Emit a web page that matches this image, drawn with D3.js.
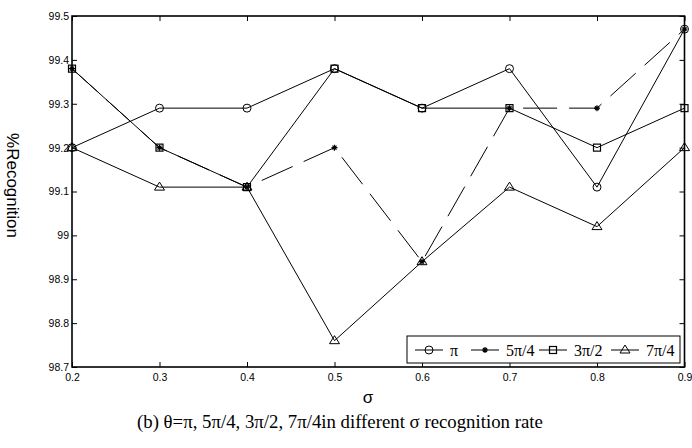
<!DOCTYPE html>
<html>
<head>
<meta charset="utf-8">
<script src="https://cdn.jsdelivr.net/npm/d3@7"></script>
<style>
  body { margin: 0; background: #fff; }
  svg { display: block; }
  .tick text { font-family: 'Liberation Sans', Arial, sans-serif; font-size: 10.5px; fill: #000; }
</style>
</head>
<body>
<div class="chartContainer"></div>
<script>
var W = 692;
var H = 448;

// data
var sigmas = [0.2, 0.3, 0.4, 0.5, 0.6, 0.7, 0.8, 0.9];
var piVals = [99.2, 99.29, 99.29, 99.38, 99.29, 99.38, 99.11, 99.47];
var fivePi4Vals = [99.38, 99.2, 99.11, 99.2, 98.94, 99.29, 99.29, 99.47];
var threePi2Vals = [99.38, 99.2, 99.11, 99.38, 99.29, 99.29, 99.2, 99.29];
var sevenPi4Vals = [99.2, 99.11, 99.11, 98.76, 98.94, 99.11, 99.02, 99.2];
var seriesNames = ['π', '5π/4', '3π/2', '7π/4'];

var xTicks = [0.2, 0.3, 0.4, 0.5, 0.6, 0.7, 0.8, 0.9];
var xTickLabels = ['0.2', '0.3', '0.4', '0.5', '0.6', '0.7', '0.8', '0.9'];
var yTicks = [98.7, 98.8, 98.9, 99, 99.1, 99.2, 99.3, 99.4, 99.5];
var yTickLabels = ['98.7', '98.8', '98.9', '99', '99.1', '99.2', '99.3', '99.4', '99.5'];

var plotLeft = 72, plotRight = 684.5, plotTop = 16, plotBottom = 367;

var svg = d3.select('.chartContainer').append('svg').attr('width', W).attr('height', H);

var xScale = d3.scaleLinear().domain([0.2, 0.9]).range([plotLeft, plotRight]);
var yScale = d3.scaleLinear().domain([98.7, 99.5]).range([plotBottom, plotTop]);

/* ===== AXES ===== */

var xAxis = d3.axisBottom(xScale)
  .tickValues(xTicks)
  .tickFormat(function (d, i) { return xTickLabels[i]; })
  .tickSizeInner(-5)
  .tickSizeOuter(0)
  .tickPadding(7);

var yAxis = d3.axisLeft(yScale)
  .tickValues(yTicks)
  .tickFormat(function (d, i) { return yTickLabels[i]; })
  .tickSizeInner(-5)
  .tickSizeOuter(0)
  .tickPadding(3);

var gx = svg.append('g').attr('transform', 'translate(0,' + plotBottom + ')').call(xAxis);
var gy = svg.append('g').attr('transform', 'translate(' + plotLeft + ',0)').call(yAxis);

var gxTop = svg.append('g').attr('transform', 'translate(0,' + plotTop + ')')
  .call(d3.axisTop(xScale).tickValues(xTicks).tickFormat('').tickSizeInner(-5).tickSizeOuter(0));
var gyRight = svg.append('g').attr('transform', 'translate(' + plotRight + ',0)')
  .call(d3.axisRight(yScale).tickValues(yTicks).tickFormat('').tickSizeInner(-5).tickSizeOuter(0));

[gx, gy, gxTop, gyRight].forEach(function (g) {
  g.select('.domain').remove();
  g.selectAll('.tick line').attr('stroke', '#000');
});

svg.append('rect')
  .attr('x', plotLeft).attr('y', plotTop)
  .attr('width', plotRight - plotLeft).attr('height', plotBottom - plotTop)
  .attr('fill', 'none').attr('stroke', '#000').attr('stroke-width', 1.6);

/* ===== LINES ===== */

var allSeries = [
  { name: seriesNames[0], values: piVals, marker: 'circle', dash: null },
  { name: seriesNames[1], values: fivePi4Vals, marker: 'star', dash: '34,12' },
  { name: seriesNames[2], values: threePi2Vals, marker: 'square', dash: null },
  { name: seriesNames[3], values: sevenPi4Vals, marker: 'triangle', dash: null }
];

var line = d3.line()
  .x(function (d) { return xScale(d.x); })
  .y(function (d) { return yScale(d.y); });

function drawMarker(g, type, cx, cy) {
  if (type === 'circle') {
    g.append('circle').attr('cx', cx).attr('cy', cy).attr('r', 4)
      .attr('fill', 'none').attr('stroke', '#000').attr('stroke-width', 1);
  } else if (type === 'square') {
    g.append('rect').attr('x', cx - 3.5).attr('y', cy - 3.5).attr('width', 7).attr('height', 7)
      .attr('fill', 'none').attr('stroke', '#000').attr('stroke-width', 1.2);
  } else if (type === 'triangle') {
    g.append('path')
      .attr('d', 'M' + cx + ',' + (cy - 5) + 'L' + (cx + 5) + ',' + (cy + 3) + 'L' + (cx - 5) + ',' + (cy + 3) + 'Z')
      .attr('fill', 'none').attr('stroke', '#000').attr('stroke-width', 1);
  } else if (type === 'star') {
    var s = 3;
    g.append('path')
      .attr('d', 'M' + (cx - s) + ',' + cy + 'L' + (cx + s) + ',' + cy +
        'M' + cx + ',' + (cy - s) + 'L' + cx + ',' + (cy + s) +
        'M' + (cx - 2) + ',' + (cy - 2) + 'L' + (cx + 2) + ',' + (cy + 2) +
        'M' + (cx - 2) + ',' + (cy + 2) + 'L' + (cx + 2) + ',' + (cy - 2))
      .attr('stroke', '#000').attr('stroke-width', 1.2);
  }
}

allSeries.forEach(function (s) {
  var pts = sigmas.map(function (x, i) { return { x: x, y: s.values[i] }; });
  var g = svg.append('g');
  g.append('path')
    .datum(pts)
    .attr('d', line)
    .attr('fill', 'none')
    .attr('stroke', '#000')
    .attr('stroke-width', 1)
    .attr('stroke-dasharray', s.dash);
  pts.forEach(function (p) {
    drawMarker(g, s.marker, xScale(p.x), yScale(p.y));
  });
});

/* ===== LEGEND ===== */

var legend = svg.append('g');
legend.append('rect')
  .attr('x', 407).attr('y', 336).attr('width', 273).attr('height', 27)
  .attr('fill', '#fff').attr('stroke', '#000').attr('stroke-width', 1);

var legendStarts = [415, 471, 539, 611];
allSeries.forEach(function (s, i) {
  var x0 = legendStarts[i];
  var ly = 350;
  legend.append('line')
    .attr('x1', x0).attr('x2', x0 + 28).attr('y1', ly).attr('y2', ly)
    .attr('stroke', '#000').attr('stroke-width', 1)
    .attr('stroke-dasharray', s.dash);
  drawMarker(legend, s.marker, x0 + 14, ly);
  legend.append('text')
    .attr('x', x0 + 35).attr('y', ly + 6)
    .attr('font-family', '"Liberation Serif", "Times New Roman", serif')
    .attr('font-size', 16)
    .text(s.name);
});

/* ===== TITLES ===== */

svg.append('text')
  .attr('x', 368).attr('y', 403)
  .attr('text-anchor', 'middle')
  .attr('font-family', '"Liberation Sans", Arial, sans-serif')
  .attr('font-size', 17)
  .text('σ');

svg.append('text')
  .attr('transform', 'translate(7,185.5) rotate(90)')
  .attr('text-anchor', 'middle')
  .attr('font-family', '"Liberation Sans", Arial, sans-serif')
  .attr('font-size', 17)
  .text('%Recognition');

svg.append('text')
  .attr('x', 137).attr('y', 428)
  .attr('font-family', '"Liberation Serif", "Times New Roman", serif')
  .attr('font-size', 18.8)
  .text('(b) θ=π, 5π/4, 3π/2, 7π/4in different σ recognition rate');
</script>
</body>
</html>
